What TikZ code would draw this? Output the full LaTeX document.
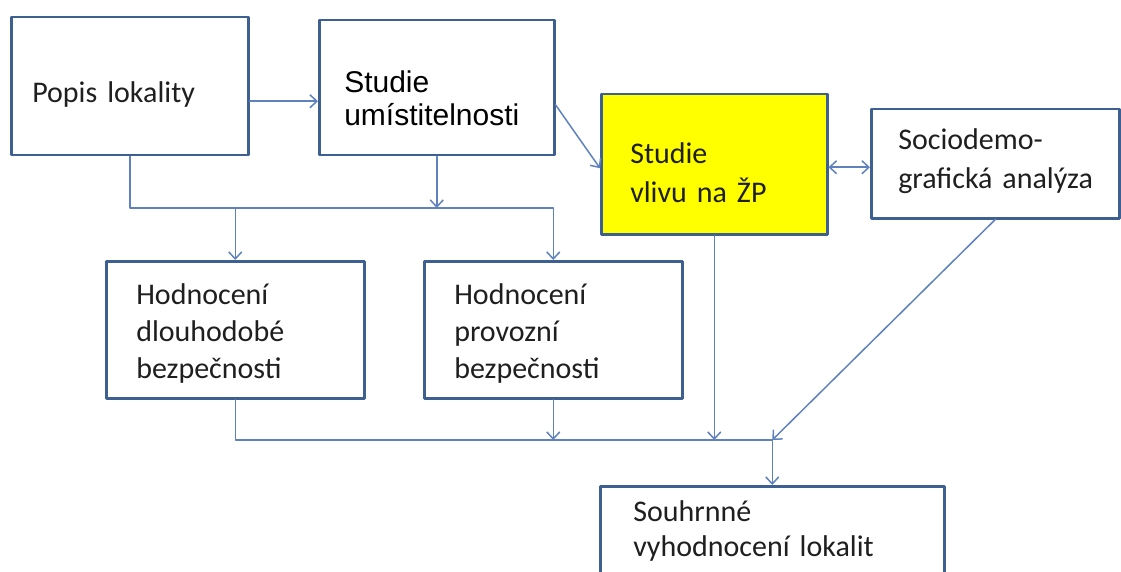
\documentclass[tikz,border=0pt]{standalone}
\usepackage{fontspec}
\setmainfont[WordSpace=0.8]{Carlito}
\newfontfamily\narrowfont{Liberation Sans}
\usetikzlibrary{arrows.meta}
\definecolor{boxline}{RGB}{62,95,145}
\definecolor{conline}{RGB}{95,130,190}
\definecolor{zpyellow}{RGB}{255,255,0}
\newcommand{\boxtext}[2]{\raisebox{#1}[\height][\depth]{\begin{tabular}{@{}l@{}}#2\end{tabular}}}

\begin{document}
\begin{tikzpicture}[x=1pt, y=-1pt, line cap=round, line join=round,
	box/.style={draw=boxline, line width=2.5pt, fill=white, anchor=north west, align=left, text=black!88, font=\fontsize{30}{39}\selectfont},
	con/.style={draw=conline, line width=1.5pt},
	arr/.style={con, -{Straight Barb[length=7pt,width=13pt]}}]
	\useasboundingbox (0,0) rectangle (1121,572);
	\clip (0,0) rectangle (1121,572);
	% boxes
	\node[box, text width=195pt, inner xsep=21pt, minimum height=138pt] (popis) at (10,16) {\boxtext{-8pt}{Popis lokality}};
	\node[box, text width=185pt, inner xsep=25pt, minimum height=135pt, font=\narrowfont\fontsize{30}{33}\selectfont, text=black] (umist) at (318,19) {\boxtext{-15pt}{Studie\\umístitelnosti}};
	\node[box, fill=zpyellow, text width=168pt, inner xsep=29pt, minimum height=140pt] (vliv) at (600,93) {\boxtext{-11pt}{Studie\\vlivu na ŽP}};
	\node[box, text width=194pt, inner xsep=27pt, minimum height=109pt] (socio) at (870,108) {\boxtext{3pt}{Sociodemo-\\grafická analýza}};
	\node[box, text width=198pt, inner xsep=30pt, minimum height=137pt, font=\fontsize{30}{37}\selectfont] (dlouho) at (105,260) {\boxtext{-4pt}{Hodnocení\\dlouhodobé\\bezpečnosti}};
	\node[box, text width=198pt, inner xsep=30pt, minimum height=137pt, font=\fontsize{30}{37}\selectfont] (provoz) at (423,260) {\boxtext{-4pt}{Hodnocení\\provozní\\bezpečnosti}};
	\node[box, text width=278pt, inner xsep=33pt, minimum height=137pt, font=\fontsize{30}{35}\selectfont] (souhrn) at (599,485) {\boxtext{23pt}{Souhrnné\\vyhodnocení lokalit}};
	% connectors
	\coordinate (topbus) at (0,208);
	\coordinate (lowbus) at (0,440);
	\draw[arr] ([yshift=-15pt]popis.east) -- ([yshift=-15pt]popis.east -| umist.west);
	\draw[arr] ([yshift=-17pt]umist.east) -- ([yshift=-4pt]vliv.west);
	\draw[con, {Straight Barb[length=7pt,width=13pt]}-{Straight Barb[length=7pt,width=13pt]}] ([yshift=-3pt]vliv.east) -- ([yshift=-3pt]vliv.east -| socio.west);
	\draw[arr] (popis.south) |- (topbus -| provoz.north) -- (provoz.north);
	\draw[arr] (topbus -| dlouho.north) -- (dlouho.north);
	\draw[arr] (umist.south) -- (topbus -| umist.south);
	\draw[con] (dlouho.south) |- (lowbus -| souhrn.north);
	\draw[arr] (provoz.south) -- (lowbus -| provoz.south);
	\draw[arr] (vliv.south) -- (lowbus -| vliv.south);
	\draw[arr] (socio.south) -- (lowbus -| souhrn.north);
	\draw[arr] (lowbus -| souhrn.north) -- (souhrn.north);
\end{tikzpicture}
\end{document}
